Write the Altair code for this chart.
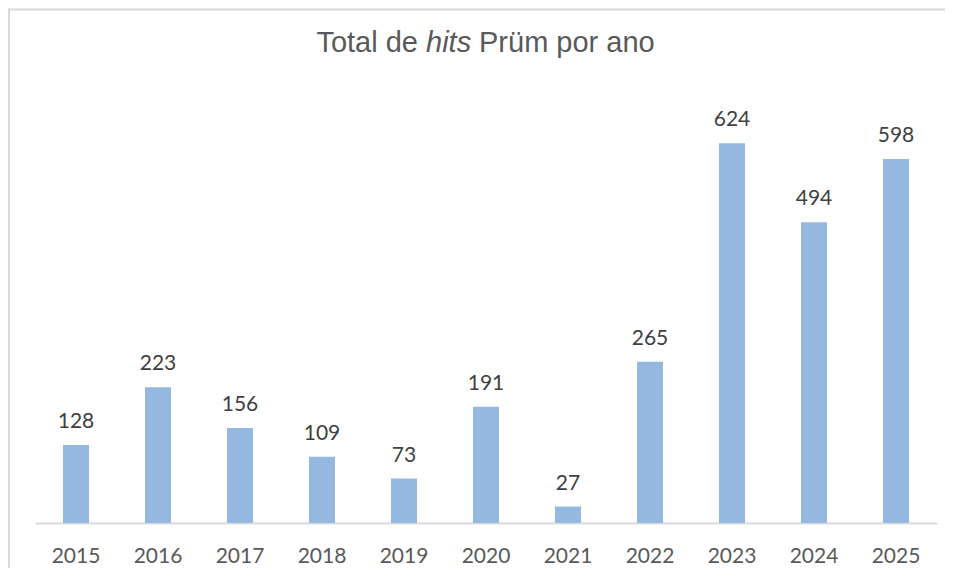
import altair as alt
import pandas as pd

years = ["2015", "2016", "2017", "2018", "2019", "2020", "2021", "2022", "2023", "2024", "2025"]
hits = [128, 223, 156, 109, 73, 191, 27, 265, 624, 494, 598]
title_parts = ["Total de", "hits", "Prüm por ano"]

df = pd.DataFrame({"ano": years, "hits": hits})

x = alt.X(
    "ano:N", sort=years,
    scale=alt.Scale(paddingInner=0.683, paddingOuter=0.3415),
    axis=alt.Axis(title=None, labelAngle=0, ticks=False, grid=False,
                  domainColor="#d9d9d9", domainWidth=2,
                  labelFont="Lato", labelFontSize=21, labelColor="#595959",
                  labelBaseline="alphabetic", labelPadding=39),
)
y = alt.Y("hits:Q", scale=alt.Scale(domain=[0, 700], nice=False), axis=None)

bars = alt.Chart(df).mark_bar(color="#95b8e0").encode(x=x, y=y)
labels = alt.Chart(df).mark_text(
    dy=-17, baseline="alphabetic", font="Lato", fontSize=21, color="#404040"
).encode(x=x, y=y, text="hits:Q")

tfont = "Liberation Sans"
tsize = 29
tcolor = "#595959"
t1 = alt.Chart(pd.DataFrame({"t": [title_parts[0]]})).mark_text(
    font=tfont, fontSize=tsize, color=tcolor, align="right", baseline="alphabetic"
).encode(text="t:N", x=alt.value(383), y=alt.value(-45))
t2 = alt.Chart(pd.DataFrame({"t": [title_parts[1]]})).mark_text(
    font=tfont, fontSize=tsize, color=tcolor, align="left", baseline="alphabetic", fontStyle="italic"
).encode(text="t:N", x=alt.value(391), y=alt.value(-45))
t3 = alt.Chart(pd.DataFrame({"t": [title_parts[2]]})).mark_text(
    font=tfont, fontSize=tsize, color=tcolor, align="left", baseline="alphabetic"
).encode(text="t:N", x=alt.value(444), y=alt.value(-45))

frame = pd.DataFrame({"k": [0]})
left_border = alt.Chart(frame).mark_rule(color="#d9d9d9", strokeWidth=2).encode(
    x=alt.value(-26), y=alt.value(-88.5), y2=alt.value(475))
top_border = alt.Chart(frame).mark_rule(color="#d9d9d9", strokeWidth=2).encode(
    y=alt.value(-87.5), x=alt.value(-27), x2=alt.value(912))

chart = alt.layer(left_border, top_border, bars, labels, t1, t2, t3).properties(
    width=902, height=426,
    autosize=alt.AutoSizeParams(type="none"),
    padding={"left": 27, "top": 89, "right": 8, "bottom": 45},
).configure_view(stroke=None)

chart.save("out.html", embed_options={"renderer": "svg", "actions": False})
